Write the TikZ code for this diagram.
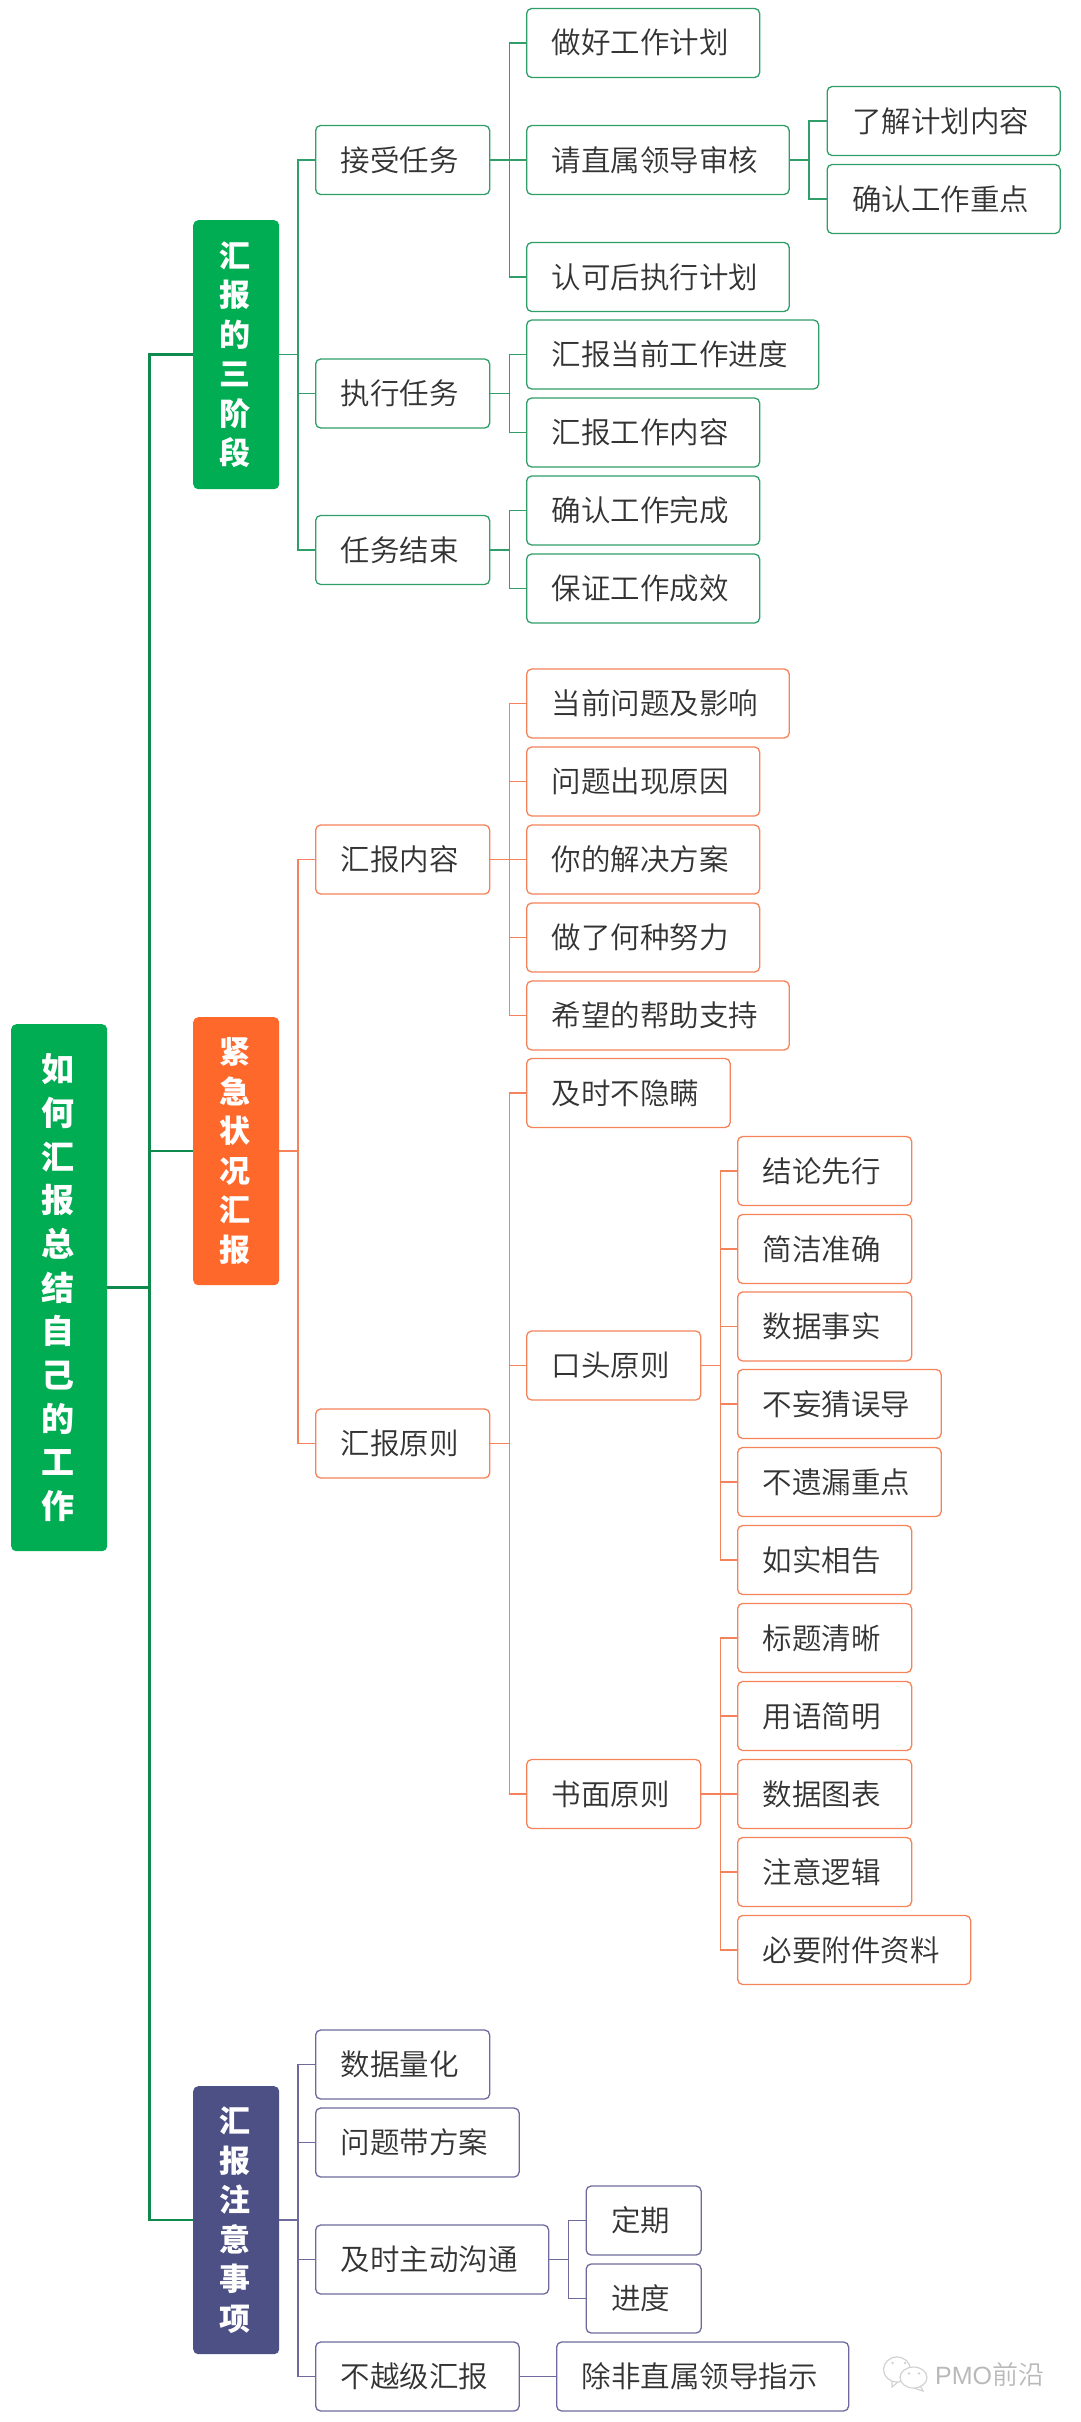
\documentclass[tikz,border=0pt]{standalone}
\usepackage{fontspec}
\setmainfont{Noto Sans CJK SC}
\newfontfamily\lightcjk{Noto Sans CJK SC DemiLight}
\newfontfamily\latinmark{Liberation Sans}
\definecolor{rootgreen}{HTML}{00AD53}
\definecolor{trunkgreen}{HTML}{0E8A4C}
\definecolor{stemgreen}{HTML}{2F9E68}
\definecolor{fireorange}{HTML}{FF682B}
\definecolor{stemorange}{HTML}{F5835A}
\definecolor{slatenavy}{HTML}{4D5085}
\definecolor{stemnavy}{HTML}{6E6A9E}
\definecolor{inkgray}{HTML}{333333}
\tikzset{
  headbox/.style={anchor=north west, fill=#1, rounded corners=5pt, inner xsep=26pt, inner ysep=0pt, text=white, text width=34pt, align=left, font=\bfseries\fontsize{31}{39.5}\selectfont},
  leafbox/.style={anchor=west, draw, line width=1.3pt, fill=white, rounded corners=5pt, inner xsep=25pt, inner ysep=0pt, text width=#1*29.5pt+6pt, minimum height=69pt, align=left, text=inkgray, text height=25pt, text depth=3pt, font=\lightcjk\fontsize{29.5}{30}\selectfont},
  greenleaf/.style={leafbox=#1, draw=stemgreen},
  orangeleaf/.style={leafbox=#1, draw=stemorange},
  navyleaf/.style={leafbox=#1, draw=stemnavy},
  greenline/.style={draw=stemgreen, line width=1.5pt},
  orangeline/.style={draw=stemorange, line width=1.5pt},
  navyline/.style={draw=stemnavy, line width=1.5pt},
  trunkline/.style={draw=trunkgreen, line width=2.5pt},
  markline/.style={draw=gray!35, line width=1.2pt, fill=white}
}
\begin{document}
\begin{tikzpicture}[x=1pt, y=-1pt]
  \useasboundingbox (0,0) rectangle (1080,2422);

  % heads
  \node[headbox=rootgreen, inner xsep=30pt, text width=36pt, minimum height=527pt, font=\bfseries\fontsize{33}{43.7}\selectfont] (root) at (11,1024) {如\\何\\汇\\报\\总\\结\\自\\己\\的\\工\\作};
  \node[headbox=rootgreen, minimum height=269pt] (stage) at (193,220) {汇\\报\\的\\三\\阶\\段};
  \node[headbox=fireorange, minimum height=268pt] (urgent) at (193,1017) {紧\\急\\状\\况\\汇\\报};
  \node[headbox=slatenavy, minimum height=268pt] (notice) at (193,2086) {汇\\报\\注\\意\\事\\项};

  % first branch
  \node[greenleaf=4] (accept) at (315,160) {接受任务};
  \node[greenleaf=4] (execute) at (315,393.5) {执行任务};
  \node[greenleaf=4] (finish) at (315,550) {任务结束};
  \node[greenleaf=6] (plan) at (526,43) {做好工作计划};
  \node[greenleaf=7] (review) at (526,160) {请直属领导审核};
  \node[greenleaf=7] (approve) at (526,277) {认可后执行计划};
  \node[greenleaf=6] (content) at (826.5,121) {了解计划内容};
  \node[greenleaf=6] (focus) at (826.5,199) {确认工作重点};
  \node[greenleaf=8] (progress) at (526,354.5) {汇报当前工作进度};
  \node[greenleaf=6] (workitem) at (526,432.5) {汇报工作内容};
  \node[greenleaf=6] (confirm) at (526,510.5) {确认工作完成};
  \node[greenleaf=6] (result) at (526,588.5) {保证工作成效};

  % second branch
  \node[orangeleaf=4] (report) at (315,859.5) {汇报内容};
  \node[orangeleaf=4] (rule) at (315,1443.5) {汇报原则};
  \node[orangeleaf=7] (issue) at (526,703.5) {当前问题及影响};
  \node[orangeleaf=6] (cause) at (526,781.5) {问题出现原因};
  \node[orangeleaf=6] (solution) at (526,859.5) {你的解决方案};
  \node[orangeleaf=6] (effort) at (526,937.5) {做了何种努力};
  \node[orangeleaf=7] (support) at (526,1015.5) {希望的帮助支持};
  \node[orangeleaf=5] (honest) at (526,1093) {及时不隐瞒};
  \node[orangeleaf=4] (oral) at (526,1365.5) {口头原则};
  \node[orangeleaf=4] (written) at (526,1794) {书面原则};
  \node[orangeleaf=4] (oralA) at (737,1171) {结论先行};
  \node[orangeleaf=4] (oralB) at (737,1249) {简洁准确};
  \node[orangeleaf=4] (oralC) at (737,1326.5) {数据事实};
  \node[orangeleaf=5] (oralD) at (737,1404) {不妄猜误导};
  \node[orangeleaf=5] (oralE) at (737,1482) {不遗漏重点};
  \node[orangeleaf=4] (oralF) at (737,1560) {如实相告};
  \node[orangeleaf=4] (textA) at (737,1638) {标题清晰};
  \node[orangeleaf=4] (textB) at (737,1716) {用语简明};
  \node[orangeleaf=4] (textC) at (737,1794) {数据图表};
  \node[orangeleaf=4] (textD) at (737,1872) {注意逻辑};
  \node[orangeleaf=6] (textE) at (737,1950) {必要附件资料};

  % third branch
  \node[navyleaf=4] (quant) at (315,2064.5) {数据量化};
  \node[navyleaf=5] (answer) at (315,2142.5) {问题带方案};
  \node[navyleaf=6] (talk) at (315,2259.5) {及时主动沟通};
  \node[navyleaf=5] (level) at (315,2376.5) {不越级汇报};
  \node[navyleaf=2] (regular) at (585.5,2220.5) {定期};
  \node[navyleaf=2] (pace) at (585.5,2298.5) {进度};
  \node[navyleaf=8] (except) at (556,2376.5) {除非直属领导指示};

  % trunk
  \draw[trunkline] (root.east) -- ++(42,0) |- (stage.west);
  \draw[trunkline] (root.east) -- ++(42,0) |- (urgent.west);
  \draw[trunkline] (root.east) -- ++(42,0) |- (notice.west);

  % connectors
  \foreach \kid in {accept,execute,finish}
    \draw[greenline] (stage.east) -- ++(18.5,0) |- (\kid.west);
  \foreach \kid in {plan,review,approve}
    \draw[greenline] (accept.east) -- ++(19,0) |- (\kid.west);
  \foreach \kid in {content,focus}
    \draw[greenline] (review.east) -- ++(19,0) |- (\kid.west);
  \foreach \kid in {progress,workitem}
    \draw[greenline] (execute.east) -- ++(19,0) |- (\kid.west);
  \foreach \kid in {confirm,result}
    \draw[greenline] (finish.east) -- ++(19,0) |- (\kid.west);

  \foreach \kid in {report,rule}
    \draw[orangeline] (urgent.east) -- ++(18.5,0) |- (\kid.west);
  \foreach \kid in {issue,cause,solution,effort,support}
    \draw[orangeline] (report.east) -- ++(19,0) |- (\kid.west);
  \foreach \kid in {honest,oral,written}
    \draw[orangeline] (rule.east) -- ++(19,0) |- (\kid.west);
  \foreach \kid in {oralA,oralB,oralC,oralD,oralE,oralF}
    \draw[orangeline] (oral.east) -- ++(19,0) |- (\kid.west);
  \foreach \kid in {textA,textB,textC,textD,textE}
    \draw[orangeline] (written.east) -- ++(19,0) |- (\kid.west);

  \foreach \kid in {quant,answer,talk,level}
    \draw[navyline] (notice.east) -- ++(18.5,0) |- (\kid.west);
  \foreach \kid in {regular,pace}
    \draw[navyline] (talk.east) -- ++(19,0) |- (\kid.west);
  \draw[navyline] (level.east) -- (except.west);

  % watermark
  \draw[markline] (892,2381) -- (892,2387) -- (898,2382);
  \draw[markline] (897,2369.5) ellipse (13.5 and 12.5);
  \draw[markline] (920,2385) -- (923,2391) -- (914,2388);
  \draw[markline] (913.5,2377.5) ellipse (13.5 and 10.5);
  \fill[gray!35] (892.5,2363) circle (1.3) (905,2363) circle (1.3) (909,2373.5) circle (1.3) (919,2373.5) circle (1.3);
  \node[anchor=west, inner sep=0pt, text=gray!55, font=\fontsize{25}{25}\selectfont] (mark) at (935,2375) {\latinmark PMO\lightcjk\fontsize{26}{26}\selectfont 前沿};
\end{tikzpicture}
\end{document}
